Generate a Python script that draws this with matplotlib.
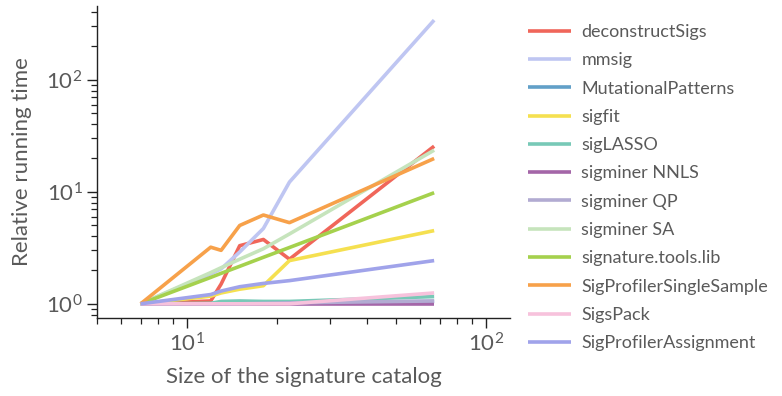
import matplotlib
matplotlib.use("Agg")
import matplotlib.pyplot as plt
from matplotlib.ticker import LogLocator, NullFormatter

plt.rcParams['font.family'] = ['Lato', 'DejaVu Sans']

catalog_size = [7, 12, 13, 15, 18, 22, 67]

series_names = [
    "deconstructSigs", "mmsig", "MutationalPatterns", "sigfit", "sigLASSO",
    "sigminer NNLS", "sigminer QP", "sigminer SA", "signature.tools.lib",
    "SigProfilerSingleSample", "SigsPack", "SigProfilerAssignment",
]

deconstructSigs = [1, 1.06, 1.5, 3.3, 3.75, 2.5, 25.5]
mmsig = [1, 1.85, 2.05, 2.9, 4.7, 12.2, 340]
MutationalPatterns = [1, 1.0, 1.0, 1.01, 1.02, 1.02, 1.05]
sigfit = [1, 1.17, 1.25, 1.35, 1.45, 2.43, 4.5]
sigLASSO = [1, 1.01, 1.05, 1.06, 1.05, 1.05, 1.16]
sigminer_NNLS = [1, 1, 1, 1, 1, 1, 1.0]
sigminer_QP = [1, 1, 1, 1, 1.01, 1.02, 1.06]
sigminer_SA = [1, 1.9, 2.1, 2.5, 3.1, 4.2, 23.5]
signature_tools_lib = [1, 1.72, 1.87, 2.16, 2.6, 3.18, 9.8]
SigProfilerSingleSample = [1, 3.2, 3.0, 5.0, 6.2, 5.3, 19.8]
SigsPack = [1, 1, 1, 1, 1, 1.0, 1.25]
SigProfilerAssignment = [1, 1.21, 1.3, 1.42, 1.52, 1.61, 2.43]

series_values = [
    deconstructSigs, mmsig, MutationalPatterns, sigfit, sigLASSO,
    sigminer_NNLS, sigminer_QP, sigminer_SA, signature_tools_lib,
    SigProfilerSingleSample, SigsPack, SigProfilerAssignment,
]

colors = ["#f0665a", "#bfc6f2", "#62a0c8", "#f5e050", "#78c9b7", "#a466a8",
          "#b2abd2", "#c6e4bc", "#a5d14d", "#f7a14a", "#f7c2dc", "#a0a3ea"]

text_color = "#5a5a5a"

fig = plt.figure(figsize=(7.82, 3.96), dpi=100)
ax = fig.add_axes([0.124, 0.197, 0.528, 0.788])

for name, vals, c in zip(series_names, series_values, colors):
    ax.plot(catalog_size, vals, color=c, lw=2.6, label=name, solid_capstyle='butt')

ax.set_xscale('log')
ax.set_yscale('log')
ax.set_xlim(5, 120)

for s in ['top', 'right']:
    ax.spines[s].set_visible(False)
for s in ['left', 'bottom']:
    ax.spines[s].set_color('#222222')
    ax.spines[s].set_linewidth(1.0)

ax.tick_params(which='major', length=7, width=1, color='#222222',
               labelsize=16, labelcolor=text_color, direction='out')
ax.tick_params(which='minor', length=4, width=0.9, color='#222222', direction='out')
ax.yaxis.set_minor_locator(LogLocator(base=10, subs=range(2, 10), numticks=20))
ax.xaxis.set_minor_locator(LogLocator(base=10, subs=range(2, 10), numticks=20))
ax.xaxis.set_minor_formatter(NullFormatter())
ax.yaxis.set_minor_formatter(NullFormatter())

ax.set_xlabel("Size of the signature catalog", fontsize=16, color=text_color, labelpad=8)
ax.set_ylabel("Relative running time", fontsize=16, color=text_color, labelpad=10)

leg = ax.legend(loc='upper left', bbox_to_anchor=(1.027, 0.965), frameon=False,
                fontsize=13, handlelength=2.35, labelspacing=0.68,
                handletextpad=0.6, borderaxespad=0)
for t in leg.get_texts():
    t.set_color(text_color)

fig.savefig("out.png", dpi=100)
